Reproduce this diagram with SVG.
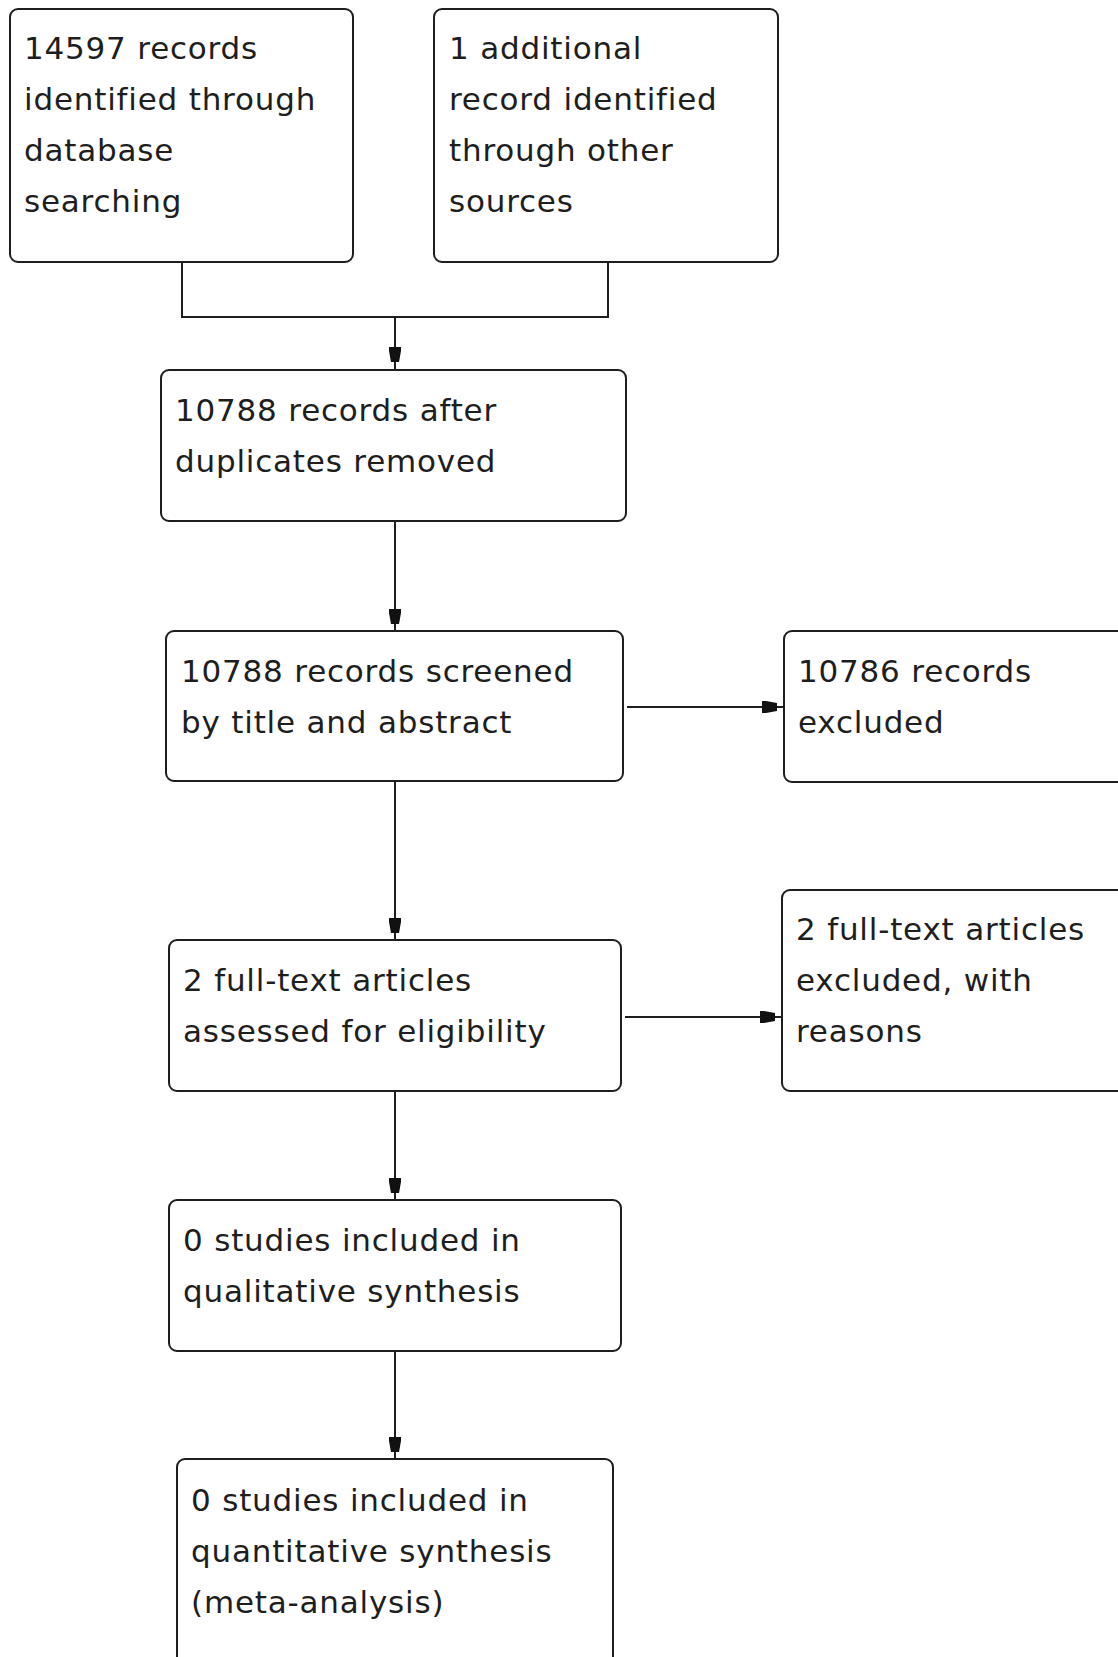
<svg xmlns="http://www.w3.org/2000/svg" width="1118" height="1657" viewBox="0 0 1118 1657">
<style>
.box{fill:#fff;stroke:#1e1e1e;stroke-width:2}
.t{font-family:"DejaVu Sans",Verdana,sans-serif;font-size:31px;letter-spacing:0.8px;fill:#1e1e1e}
.c{fill:none;stroke:#1e1e1e;stroke-width:2}
</style>
<defs>
<marker id="ah" markerUnits="userSpaceOnUse" viewBox="-24 -8 26 16" refX="0" refY="0" markerWidth="26" markerHeight="16" orient="auto">
<path d="M-22,-6 L-18,-6 L-7,-4 L-7,4 L-18,6 L-22,6 Z" fill="#111"/>
</marker>
</defs>
<rect width="1118" height="1657" fill="#fff"/>
<g id="connectors">
<path class="c" d="M182,262 V317 H608 V262"/>
<path class="c" d="M395,317 V369" marker-end="url(#ah)"/>
<path class="c" d="M395,521 V631" marker-end="url(#ah)"/>
<path class="c" d="M395,781 V940" marker-end="url(#ah)"/>
<path class="c" d="M395,1091 V1200" marker-end="url(#ah)"/>
<path class="c" d="M395,1351 V1459" marker-end="url(#ah)"/>
<path class="c" d="M627,707 H784" marker-end="url(#ah)"/>
<path class="c" d="M625,1017 H782" marker-end="url(#ah)"/>
</g>
<g id="n1">
<rect class="box" x="10" y="9" width="343" height="253" rx="8"/>
<text class="t" x="24"><tspan x="24" y="59">14597 records</tspan><tspan x="24" y="110">identified through</tspan><tspan x="24" y="161">database</tspan><tspan x="24" y="212">searching</tspan></text>
</g>
<g id="n2">
<rect class="box" x="434" y="9" width="344" height="253" rx="8"/>
<text class="t"><tspan x="449" y="59">1 additional</tspan><tspan x="449" y="110">record identified</tspan><tspan x="449" y="161">through other</tspan><tspan x="449" y="212">sources</tspan></text>
</g>
<g id="n3">
<rect class="box" x="161" y="370" width="465" height="151" rx="8"/>
<text class="t"><tspan x="175" y="421">10788 records after</tspan><tspan x="175" y="472">duplicates removed</tspan></text>
</g>
<g id="n4">
<rect class="box" x="166" y="631" width="457" height="150" rx="8"/>
<text class="t"><tspan x="181" y="682">10788 records screened</tspan><tspan x="181" y="733">by title and abstract</tspan></text>
</g>
<g id="n5">
<rect class="box" x="784" y="631" width="350" height="151" rx="8"/>
<text class="t"><tspan x="798" y="682">10786 records</tspan><tspan x="798" y="733">excluded</tspan></text>
</g>
<g id="n6">
<rect class="box" x="169" y="940" width="452" height="151" rx="8"/>
<text class="t"><tspan x="183" y="991">2 full-text articles</tspan><tspan x="183" y="1042">assessed for eligibility</tspan></text>
</g>
<g id="n7">
<rect class="box" x="782" y="890" width="350" height="201" rx="8"/>
<text class="t"><tspan x="796" y="940">2 full-text articles</tspan><tspan x="796" y="991">excluded, with</tspan><tspan x="796" y="1042">reasons</tspan></text>
</g>
<g id="n8">
<rect class="box" x="169" y="1200" width="452" height="151" rx="8"/>
<text class="t"><tspan x="183" y="1251">0 studies included in</tspan><tspan x="183" y="1302">qualitative synthesis</tspan></text>
</g>
<g id="n9">
<rect class="box" x="177" y="1459" width="436" height="220" rx="8"/>
<text class="t"><tspan x="191" y="1511">0 studies included in</tspan><tspan x="191" y="1562">quantitative synthesis</tspan><tspan x="191" y="1613">(meta-analysis)</tspan></text>
</g>
</svg>
